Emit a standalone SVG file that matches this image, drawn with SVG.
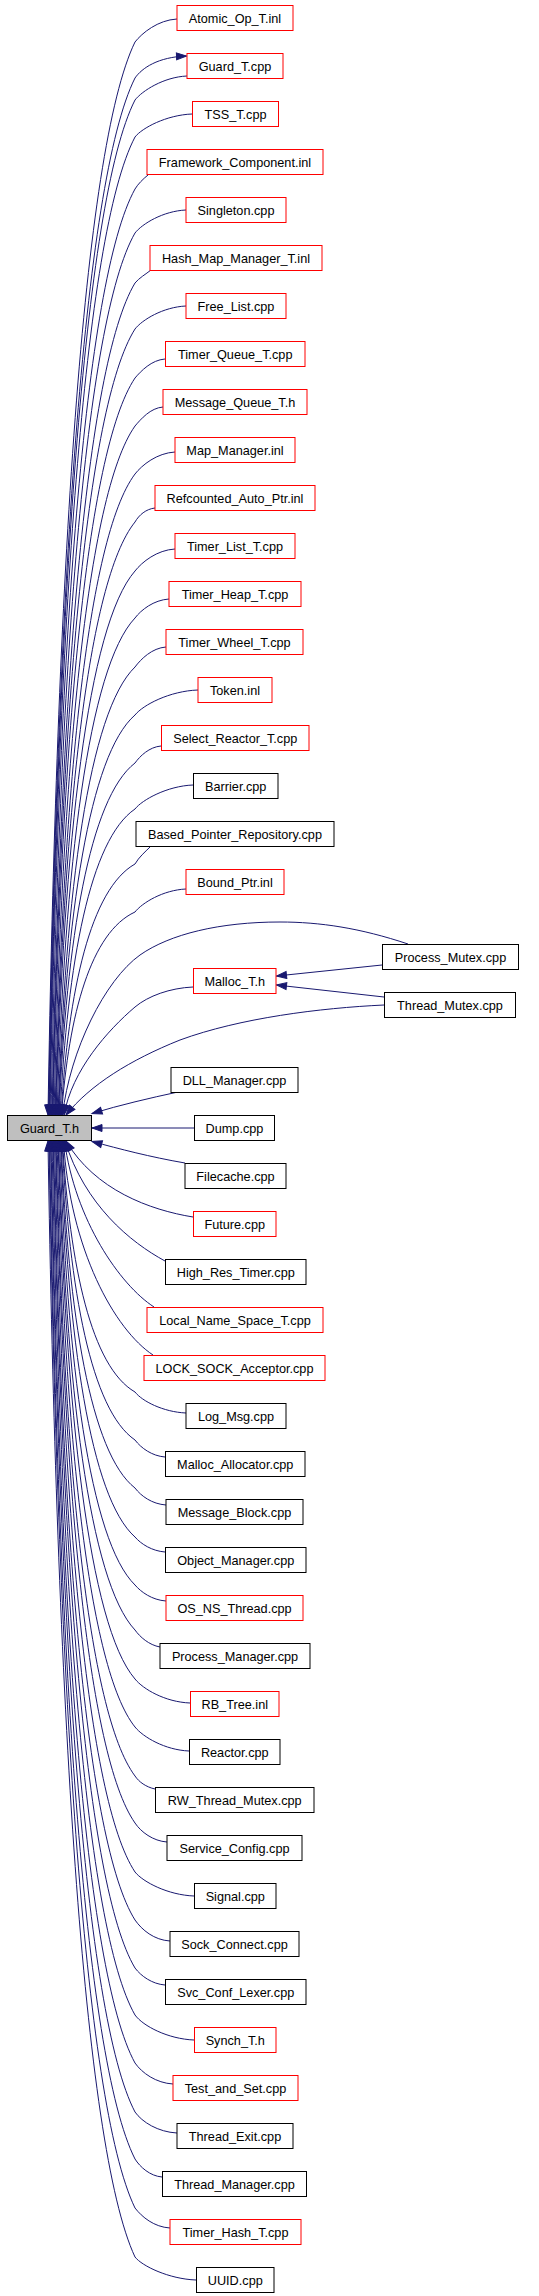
<svg xmlns="http://www.w3.org/2000/svg" width="539" height="2296" viewBox="0 0 539 2296">
<style>
.r{fill:#fff;stroke:#ff0000;stroke-width:1}
.b{fill:#fff;stroke:#000;stroke-width:1}
.g{fill:#bfbfbf;stroke:#000;stroke-width:1}
text{font-family:"Liberation Sans",Arial,sans-serif;font-size:12.7px;text-anchor:middle;fill:#000}
#edges path{fill:none;stroke:#191970;stroke-width:1}
#edges .a{marker-end:url(#ah)}
</style>
<defs>
<marker id="ah" markerWidth="10" markerHeight="8" refX="10" refY="3.5" orient="auto" markerUnits="userSpaceOnUse" overflow="visible"><path d="M0,0 L10,3.5 L0,7 z" fill="#191970" stroke="#191970" stroke-width="1"/></marker>
</defs>
<rect width="539" height="2296" fill="#fff"/>
<g id="edges">
<path class="a" d="M177,19 C158,20 142,33 135,42 C82.8,149.3 56.7,578.5 48,1115"/>
<path class="a" d="M187,76 C163.6,77 142,91 135,100 C83.4,201.5 57.6,607.5 49,1115"/>
<path class="a" d="M48.5,1115 C57.2,596.5 83.1,181.7 135,78 C142,68 158,57 186.5,56"/>
<path class="a" d="M192,114 C166.4,115 142,128 135,137 C83.7,234.8 58,626 49.5,1115"/>
<path class="a" d="M148,175 C143,179 138,184 135,189 C84,281.6 58.5,652 50,1115"/>
<path class="a" d="M186,210 C163,211 142,224 135,233 C84.6,321.2 59.4,674 51,1115"/>
<path class="a" d="M151,270 C146,274 139,278 135,283 C85.2,366.2 60.3,699 52,1115"/>
<path class="a" d="M186,306 C163,307 142,320 135,329 C85.5,407.6 60.75,722 52.5,1115"/>
<path class="a" d="M165,359 C151.5,360 141,371 135,378 C85.8,451.7 61.2,746.5 53,1115"/>
<path class="a" d="M163,407 C150.4,408 141,419 135,426 C86.4,494.9 62.1,770.5 54,1115"/>
<path class="a" d="M175,452 C157,453 142,465 135,474 C87,538.1 63,794.5 55,1115"/>
<path class="a" d="M155,508 C146,509 139,515 135,522 C87.3,581.3 63.45,818.5 55.5,1115"/>
<path class="a" d="M175,549 C157,550 142,562 135,571 C87.6,625.4 63.9,843 56,1115"/>
<path class="a" d="M169,599 C153.7,600 141,610 135,618 C88.2,667.7 64.8,866.5 57,1115"/>
<path class="a" d="M166,647 C152,648 141,659 135,667 C88.8,711.8 65.7,891 58,1115"/>
<path class="a" d="M198,690 C169.6,691 143,705 135,715 C89.1,755 66.15,915 58.5,1115"/>
<path class="a" d="M161,746 C149.3,747 140,756 135,763 C89.4,798.2 66.6,939 59,1115"/>
<path class="a" d="M193,785 C167,786 142,800 135,809 C90,839.6 67.5,962 60,1115"/>
<path class="a" d="M150,847 C145,852 139,857 135,864 C90.6,889.1 68.4,989.5 61,1115"/>
<path class="a" d="M186,889 C163,890 142,903 135,912 C90.9,932.3 68.85,1013.5 61.5,1115"/>
<path class="a" d="M408,944 C360,928 320,922 280,922 C220,922 170,934 140,955 C105,980 70,1050 62.5,1115"/>
<path class="a" d="M193,987 C170,988 148,996 135,1007 C108,1030 72,1070 64,1115"/>
<path class="a" d="M384,1005 C320,1008 240,1018 180,1040 C130,1060 90,1085 66,1115"/>
<path class="a" d="M382,965 L276.5,976"/>
<path class="a" d="M384,997 L276.5,985"/>
<path class="a" d="M178,1092 C150,1098 120,1105 92,1113.5"/>
<path class="a" d="M194,1128 L92,1128"/>
<path class="a" d="M185,1163 C150,1157 120,1149 92,1141.5"/>
<path class="a" d="M193,1217 C150,1210 95,1190 66,1141"/>
<path class="a" d="M165,1261 C130,1242 85,1205 65,1141"/>
<path class="a" d="M154,1307 C120,1285 75,1220 64.5,1141"/>
<path class="a" d="M153,1355 C115,1330 70,1250 63.5,1141"/>
<path class="a" d="M186,1413 C163,1412 142,1401 135,1392 C91.5,1366.9 69.75,1266.5 62.5,1141"/>
<path class="a" d="M165,1457 C152,1456 141,1448 135,1440 C91.2,1410.1 69.3,1290.5 62,1141"/>
<path class="a" d="M166,1505 C152,1504 141,1496 135,1488 C90.6,1453.3 68.4,1314.5 61,1141"/>
<path class="a" d="M165,1552 C152,1551 141,1544 135,1537 C90.3,1497.4 67.95,1339 60.5,1141"/>
<path class="a" d="M166,1601 C152,1600 141,1592 135,1585 C89.7,1540.6 67.05,1363 59.5,1141"/>
<path class="a" d="M160,1647 C149,1645 140,1637 135,1630 C89.1,1581.1 66.15,1385.5 58.5,1141"/>
<path class="a" d="M190,1703 C165,1702 143,1689 135,1679 C88.8,1625.2 65.7,1410 58,1141"/>
<path class="a" d="M189,1751 C165,1750 143,1737 135,1727 C88.2,1668.4 64.8,1434 57,1141"/>
<path class="a" d="M155,1789 C146,1787 139,1782 135,1776 C87.6,1712.5 63.9,1458.5 56,1141"/>
<path class="a" d="M167,1842 C153,1841 141,1832 135,1823 C87.3,1754.8 63.45,1482 55.5,1141"/>
<path class="a" d="M194,1896 C168,1895 143,1882 135,1872 C86.7,1798.9 62.55,1506.5 54.5,1141"/>
<path class="a" d="M170,1941 C154,1940 142,1930 135,1920 C86.1,1842.1 61.65,1530.5 53.5,1141"/>
<path class="a" d="M165,1985 C152,1984 141,1976 135,1968 C85.8,1885.3 61.2,1554.5 53,1141"/>
<path class="a" d="M194,2040 C168,2039 143,2026 135,2015 C85.2,1927.6 60.3,1578 52,1141"/>
<path class="a" d="M173,2084 C156,2083 142,2073 135,2063 C84.6,1970.8 59.4,1602 51,1141"/>
<path class="a" d="M177,2133 C158,2132 142,2122 135,2112 C84.3,2014.9 58.95,1626.5 50.5,1141"/>
<path class="a" d="M162,2177 C150,2176 140,2167 135,2159 C83.7,2057.2 58.05,1650 49.5,1141"/>
<path class="a" d="M170,2228 C154,2227 142,2217 135,2208 C83.4,2101.3 57.6,1674.5 49,1141"/>
<path class="a" d="M196,2280 C169,2279 142,2266 135,2257 C82.8,2145.4 56.7,1699 48,1141"/>
</g>
<g id="n_guard_t_h"><rect class="g" x="7.5" y="1115.5" width="84" height="25"/><text x="49.5" y="1132.5">Guard_T.h</text></g>
<g id="n_atomic"><rect class="r" x="177" y="5.5" width="116" height="25"/><text x="235" y="22.5">Atomic_Op_T.inl</text></g>
<g id="n_guard_t_cpp"><rect class="r" x="187" y="53.5" width="96" height="25"/><text x="235" y="70.5">Guard_T.cpp</text></g>
<g id="n_tss"><rect class="r" x="192.5" y="101.5" width="86" height="25"/><text x="235.5" y="118.5">TSS_T.cpp</text></g>
<g id="n_framework"><rect class="r" x="147" y="149.5" width="176" height="25"/><text x="235" y="166.5">Framework_Component.inl</text></g>
<g id="n_singleton"><rect class="r" x="186" y="197.5" width="100" height="25"/><text x="236" y="214.5">Singleton.cpp</text></g>
<g id="n_hash_map"><rect class="r" x="150" y="245.5" width="172" height="25"/><text x="236" y="262.5">Hash_Map_Manager_T.inl</text></g>
<g id="n_free_list"><rect class="r" x="186" y="293.5" width="100" height="25"/><text x="236" y="310.5">Free_List.cpp</text></g>
<g id="n_timer_queue"><rect class="r" x="165.5" y="341.5" width="139.5" height="25"/><text x="235.25" y="358.5">Timer_Queue_T.cpp</text></g>
<g id="n_message_queue"><rect class="r" x="163" y="389.5" width="144" height="25"/><text x="235" y="406.5">Message_Queue_T.h</text></g>
<g id="n_map_manager"><rect class="r" x="175" y="437.5" width="120" height="25"/><text x="235" y="454.5">Map_Manager.inl</text></g>
<g id="n_refcounted"><rect class="r" x="155" y="485.5" width="160" height="25"/><text x="235" y="502.5">Refcounted_Auto_Ptr.inl</text></g>
<g id="n_timer_list"><rect class="r" x="175" y="533.5" width="120" height="25"/><text x="235" y="550.5">Timer_List_T.cpp</text></g>
<g id="n_timer_heap"><rect class="r" x="169" y="581.5" width="132" height="25"/><text x="235" y="598.5">Timer_Heap_T.cpp</text></g>
<g id="n_timer_wheel"><rect class="r" x="166" y="629.5" width="137" height="25"/><text x="234.5" y="646.5">Timer_Wheel_T.cpp</text></g>
<g id="n_token"><rect class="r" x="198" y="677.5" width="74" height="25"/><text x="235" y="694.5">Token.inl</text></g>
<g id="n_select_reactor"><rect class="r" x="161.5" y="725.5" width="147.5" height="25"/><text x="235.25" y="742.5">Select_Reactor_T.cpp</text></g>
<g id="n_barrier"><rect class="b" x="193.5" y="773.5" width="84.5" height="25"/><text x="235.75" y="790.5">Barrier.cpp</text></g>
<g id="n_based_pointer"><rect class="b" x="136" y="821.5" width="198" height="25"/><text x="235" y="838.5">Based_Pointer_Repository.cpp</text></g>
<g id="n_bound_ptr"><rect class="r" x="186" y="869.5" width="98" height="25"/><text x="235" y="886.5">Bound_Ptr.inl</text></g>
<g id="n_malloc_t"><rect class="r" x="193.5" y="968.5" width="82.5" height="25"/><text x="234.75" y="985.5">Malloc_T.h</text></g>
<g id="n_process_mutex"><rect class="b" x="382.5" y="944.5" width="136" height="25"/><text x="450.5" y="961.5">Process_Mutex.cpp</text></g>
<g id="n_thread_mutex"><rect class="b" x="384.5" y="992.5" width="131" height="25"/><text x="450" y="1009.5">Thread_Mutex.cpp</text></g>
<g id="n_dll_manager"><rect class="b" x="171" y="1067.5" width="127" height="25"/><text x="234.5" y="1084.5">DLL_Manager.cpp</text></g>
<g id="n_dump"><rect class="b" x="194.5" y="1115.5" width="80" height="25"/><text x="234.5" y="1132.5">Dump.cpp</text></g>
<g id="n_filecache"><rect class="b" x="185" y="1163.5" width="101" height="25"/><text x="235.5" y="1180.5">Filecache.cpp</text></g>
<g id="n_future"><rect class="r" x="193.5" y="1211.5" width="82.5" height="25"/><text x="234.75" y="1228.5">Future.cpp</text></g>
<g id="n_high_res"><rect class="b" x="165.5" y="1259.5" width="140.5" height="25"/><text x="235.75" y="1276.5">High_Res_Timer.cpp</text></g>
<g id="n_local_name"><rect class="r" x="147" y="1307.5" width="176" height="25"/><text x="235" y="1324.5">Local_Name_Space_T.cpp</text></g>
<g id="n_lock_sock"><rect class="r" x="144" y="1355.5" width="181" height="25"/><text x="234.5" y="1372.5">LOCK_SOCK_Acceptor.cpp</text></g>
<g id="n_log_msg"><rect class="b" x="186" y="1403.5" width="100" height="25"/><text x="236" y="1420.5">Log_Msg.cpp</text></g>
<g id="n_malloc_alloc"><rect class="b" x="165.5" y="1451.5" width="139.5" height="25"/><text x="235.25" y="1468.5">Malloc_Allocator.cpp</text></g>
<g id="n_message_block"><rect class="b" x="166" y="1499.5" width="137" height="25"/><text x="234.5" y="1516.5">Message_Block.cpp</text></g>
<g id="n_object_manager"><rect class="b" x="165.5" y="1547.5" width="140.5" height="25"/><text x="235.75" y="1564.5">Object_Manager.cpp</text></g>
<g id="n_os_ns_thread"><rect class="r" x="166" y="1595.5" width="137" height="25"/><text x="234.5" y="1612.5">OS_NS_Thread.cpp</text></g>
<g id="n_process_manager"><rect class="b" x="160" y="1643.5" width="150" height="25"/><text x="235" y="1660.5">Process_Manager.cpp</text></g>
<g id="n_rb_tree"><rect class="r" x="190.5" y="1691.5" width="88.5" height="25"/><text x="234.75" y="1708.5">RB_Tree.inl</text></g>
<g id="n_reactor"><rect class="b" x="189.5" y="1739.5" width="90.5" height="25"/><text x="234.75" y="1756.5">Reactor.cpp</text></g>
<g id="n_rw_thread_mutex"><rect class="b" x="155.5" y="1787.5" width="158.5" height="25"/><text x="234.75" y="1804.5">RW_Thread_Mutex.cpp</text></g>
<g id="n_service_config"><rect class="b" x="167" y="1835.5" width="135" height="25"/><text x="234.5" y="1852.5">Service_Config.cpp</text></g>
<g id="n_signal"><rect class="b" x="194.5" y="1883.5" width="81.5" height="25"/><text x="235.25" y="1900.5">Signal.cpp</text></g>
<g id="n_sock_connect"><rect class="b" x="170" y="1931.5" width="129" height="25"/><text x="234.5" y="1948.5">Sock_Connect.cpp</text></g>
<g id="n_svc_conf_lexer"><rect class="b" x="165.5" y="1979.5" width="140.5" height="25"/><text x="235.75" y="1996.5">Svc_Conf_Lexer.cpp</text></g>
<g id="n_synch_t"><rect class="r" x="194.5" y="2027.5" width="81.5" height="25"/><text x="235.25" y="2044.5">Synch_T.h</text></g>
<g id="n_test_and_set"><rect class="r" x="173" y="2075.5" width="125" height="25"/><text x="235.5" y="2092.5">Test_and_Set.cpp</text></g>
<g id="n_thread_exit"><rect class="b" x="177" y="2123.5" width="116" height="25"/><text x="235" y="2140.5">Thread_Exit.cpp</text></g>
<g id="n_thread_manager"><rect class="b" x="162.5" y="2171.5" width="144" height="25"/><text x="234.5" y="2188.5">Thread_Manager.cpp</text></g>
<g id="n_timer_hash"><rect class="r" x="170" y="2219.5" width="131" height="25"/><text x="235.5" y="2236.5">Timer_Hash_T.cpp</text></g>
<g id="n_uuid"><rect class="b" x="196.5" y="2267.5" width="77.5" height="25"/><text x="235.25" y="2284.5">UUID.cpp</text></g>
</svg>
